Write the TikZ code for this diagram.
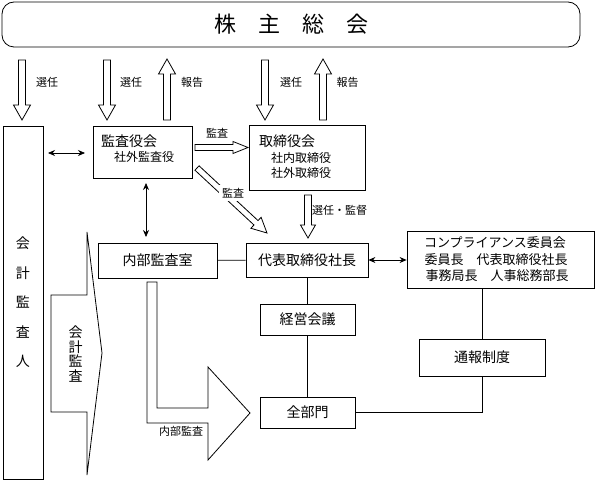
\documentclass[tikz,border=0pt]{standalone}
\usepackage{fontspec}
\newfontfamily\jpfont{Noto Sans CJK JP}
\usetikzlibrary{calc,arrows.meta}
\newcommand{\hollowarrow}[5]{%
  \draw[hollow] let \p1=($(#2)-(#1)$), \n1={atan2(\y1,\x1)}, \n2={veclen(\x1,\y1)} in
   [shift={(#1)}, rotate=\n1]
   (0pt,#3) -- (\n2-#5,#3) -- (\n2-#5,#4) -- (\n2,0pt) -- (\n2-#5,-#4) -- (\n2-#5,-#3) -- (0pt,-#3) -- cycle;}
\begin{document}
\begin{tikzpicture}[x=1pt,y=-1pt,
  box/.style={draw, line width=0.8pt, inner sep=0pt},
  hollow/.style={draw, line width=0.8pt, fill=white, line join=miter},
  conn/.style={line width=0.8pt},
  dbl/.style={line width=0.8pt, {Stealth[length=7pt,width=6pt]}-{Stealth[length=7pt,width=6pt]}},
  txt/.style={inner sep=0pt},
  fbig/.style={font=\jpfont\fontsize{14}{16}\selectfont},
  fsub/.style={font=\jpfont\fontsize{12}{14}\selectfont},
  fcomp/.style={font=\jpfont\fontsize{13}{15}\selectfont},
  flab/.style={font=\jpfont\fontsize{11}{13}\selectfont},
]
\useasboundingbox (0,0) rectangle (596,481);

% boxes
\node[box, rounded corners=12pt, minimum width=578pt, minimum height=45pt,
      font=\jpfont\fontsize{22}{24}\selectfont] (gm) at (291,24.5) {株　主　総　会};
\node[box, minimum width=40pt, minimum height=353pt, align=center,
      font=\jpfont\fontsize{14}{29.5}\selectfont] (auditor) at (23,302.5) {会\\計\\監\\査\\人};
\node[box, minimum width=99pt, minimum height=52pt] (kansa) at (142.5,152) {};
\node[txt, fbig, anchor=west] (kansaT) at (101,141) {監査役会};
\node[txt, fsub, anchor=west] (kansaS) at (114,157) {社外監査役};
\node[box, minimum width=116pt, minimum height=65pt] (tori) at (307,157.5) {};
\node[txt, fbig, anchor=west] (toriT) at (259,141) {取締役会};
\node[txt, fsub, anchor=west] (toriS1) at (271,158) {社内取締役};
\node[txt, fsub, anchor=west] (toriS2) at (271,173) {社外取締役};
\node[box, fbig, minimum width=119pt, minimum height=35pt] (naibu) at (157.5,260.5) {内部監査室};
\node[box, fbig, minimum width=122pt, minimum height=34pt] (daihyo) at (307,260) {代表取締役社長};
\node[box, minimum width=187pt, minimum height=57pt] (comp) at (500.5,259.5) {};
\node[txt, fcomp] (compT) at (495,243) {コンプライアンス委員会};
\node[txt, fcomp] (compA) at (496,260) {委員長　代表取締役社長};
\node[txt, fcomp] (compB) at (497,275.5) {事務局長　人事総務部長};
\node[box, fbig, minimum width=95pt, minimum height=31pt] (keiei) at (307.5,319.5) {経営会議};
\node[box, fbig, minimum width=95pt, minimum height=31pt] (zen) at (307.5,412.5) {全部門};
\node[box, fbig, minimum width=126pt, minimum height=37pt] (tsuho) at (482,357.5) {通報制度};

% plain connectors
\draw[conn] (naibu) -- (daihyo);
\draw[conn] (daihyo.south) -- (daihyo.south |- keiei.north);
\draw[conn] (keiei.south) -- (keiei.south |- zen.north);
\draw[conn] (comp.south -| tsuho.north) -- (tsuho.north);
\draw[conn] (tsuho.south) |- (zen.east);

% double-headed arrows
\draw[dbl] (daihyo.east) -- (comp.west |- daihyo.east);
\coordinate (a1) at (48,153);
\coordinate (a2) at (85,153);
\draw[dbl] (a1) -- (a2);
\coordinate (v1) at (146,183);
\coordinate (v2) at (146,237);
\draw[dbl] (v1) -- (v2);

% hollow arrows from/to general meeting
\hollowarrow{22,60}{22,120}{3.5pt}{8.5pt}{15pt}
\hollowarrow{107,60}{107,120}{3.5pt}{8.5pt}{15pt}
\hollowarrow{167,120}{167,59}{3.5pt}{8.5pt}{15pt}
\hollowarrow{265,60}{265,120}{3.5pt}{8.5pt}{15pt}
\hollowarrow{323,120}{323,59}{3.5pt}{8.5pt}{15pt}
\node[txt, flab] (l1) at (47,82) {選任};
\node[txt, flab] (l2) at (131,82) {選任};
\node[txt, flab] (l3) at (192,82) {報告};
\node[txt, flab] (l4) at (291,82) {選任};
\node[txt, flab] (l5) at (347.5,82) {報告};

% audit arrows
\hollowarrow{195,147.5}{248,147.5}{3pt}{6pt}{15pt}
\node[txt, flab] (l6) at (217,133) {監査};
\hollowarrow{197,168}{267,233}{3pt}{7.5pt}{15pt}
\node[flab, fill=white, inner sep=3pt] (l7) at (233,193) {監査};
\hollowarrow{308,195}{308,238}{3.5pt}{7.5pt}{13pt}
\node[txt, flab, anchor=west] (l8) at (312,210) {選任・監督};

% big accounting audit arrow
\draw[hollow] (51,295) -- (87,295) -- (87,232) -- (102,353) -- (87,475) -- (87,412) -- (51,412) -- cycle;
\node[txt, align=center, font=\jpfont\fontsize{14}{14.5}\selectfont] (l9) at (75.5,354) {会\\計\\監\\査};

% internal audit L arrow
\draw[hollow] (147,282) -- (157,282) -- (157,408) -- (208,408) -- (208,367) -- (250,413) -- (208,460) -- (208,423) -- (147,423) -- cycle;
\node[txt, flab] (l10) at (181,431) {内部監査};
\end{tikzpicture}
\end{document}
